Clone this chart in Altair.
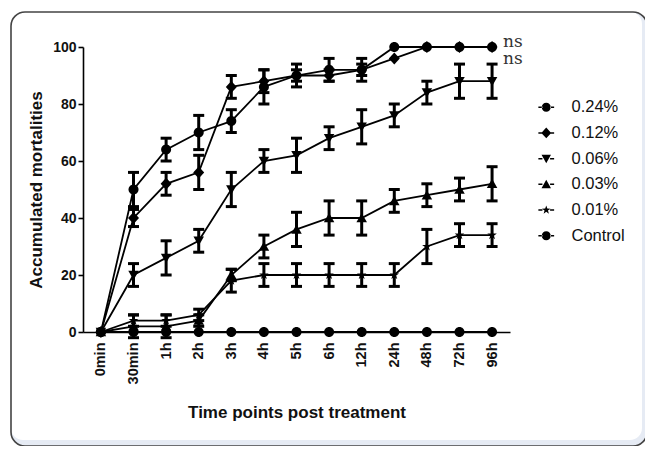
import altair as alt
import pandas as pd

times = ["0min", "30min", "1h", "2h", "3h", "4h", "5h", "6h", "12h", "24h", "48h", "72h", "96h"]
series_names = ["0.24%", "0.12%", "0.06%", "0.03%", "0.01%", "Control"]

m024 = [0, 50, 64, 70, 74, 86, 90, 92, 92, 100, 100, 100, 100]
e024 = [0, 6, 4, 6, 4, 6, 4, 4, 4, 0, 0, 0, 0]
m012 = [0, 40, 52, 56, 86, 88, 90, 90, 92, 96, 100, 100, 100]
e012 = [0, 3, 4, 6, 4, 4, 2, 2, 2, 0, 0, 0, 0]
m006 = [0, 20, 26, 32, 50, 60, 62, 68, 72, 76, 84, 88, 88]
e006 = [0, 4, 6, 4, 6, 4, 6, 4, 6, 4, 4, 6, 6]
m003 = [0, 2, 2, 4, 20, 30, 36, 40, 40, 46, 48, 50, 52]
e003 = [0, 4, 4, 2, 2, 4, 6, 6, 6, 4, 4, 4, 6]
m001 = [0, 4, 4, 6, 18, 20, 20, 20, 20, 20, 30, 34, 34]
e001 = [0, 2, 2, 2, 4, 4, 4, 4, 4, 4, 6, 4, 4]
mctl = [0, 0, 0, 0, 0, 0, 0, 0, 0, 0, 0, 0, 0]
ectl = [0, 0, 0, 0, 0, 0, 0, 0, 0, 0, 0, 0, 0]

ns_labels = ["ns", "ns"]

means = [m024, m012, m006, m003, m001, mctl]
errs = [e024, e012, e006, e003, e001, ectl]

rows = []
for name, mv, ev in zip(series_names, means, errs):
    for t, m, e in zip(times, mv, ev):
        rows.append({"time": t, "series": name, "legend": name, "mean": m,
                     "lo": m - e, "hi": m + e, "err": e})
df = pd.DataFrame(rows)
df_err = df[df["err"] > 0]

# marker shapes (unit paths)
CIRCLE = "M-1,0A1,1,0,1,0,1,0A1,1,0,1,0,-1,0Z"
DIAMOND = "M0,-1.2L1.1,0L0,1.2L-1.1,0Z"
TRI_DOWN = "M0,1L1.05,-0.85L-1.05,-0.85Z"
TRI_UP = "M0,-1L1.05,0.85L-1.05,0.85Z"
STAR = ("M0,-1L0.235,-0.324L0.951,-0.309L0.38,0.124L0.588,0.809L0,0.4"
        "L-0.588,0.809L-0.38,0.124L-0.951,-0.309L-0.235,-0.324Z")
LINE = " M-1.75,-0.17H-0.85V0.17H-1.75Z M0.85,-0.17H1.75V0.17H0.85Z"

plot_shapes = [CIRCLE, DIAMOND, TRI_DOWN, TRI_UP, STAR, CIRCLE]
legend_shapes = [s + LINE for s in plot_shapes]

FONT = "Liberation Sans"

x_enc = alt.X("time:N", sort=times,
              scale=alt.Scale(type="point", domain=times, padding=0.55),
              axis=alt.Axis(title="Time points post treatment", labelAngle=270,
                            ticks=False, labelPadding=10, titlePadding=21, zindex=1,
                            labelFont=FONT, labelFontWeight="bold", labelFontSize=14.5,
                            labelColor="#111", titleFont=FONT, titleFontSize=17,
                            titleFontWeight="bold", titleColor="#111"))
y_scale = alt.Scale(domain=[0, 100], nice=False)
y_enc = alt.Y("mean:Q", scale=y_scale,
              axis=alt.Axis(title="Accumulated mortalities", values=[0, 20, 40, 60, 80, 100],
                            tickSize=5, labelPadding=2, titlePadding=7, zindex=1,
                            labelFont=FONT, labelFontWeight="bold", labelFontSize=14,
                            labelColor="#111", titleFont=FONT, titleFontSize=17,
                            titleFontWeight="bold", titleColor="#111"))

base = alt.Chart(df)

lines = base.mark_line(color="black", strokeWidth=1.8).encode(
    x=x_enc, y=y_enc, detail="series:N"
)

err_rule = alt.Chart(df_err).mark_rule(color="black", strokeWidth=3).encode(
    x=alt.X("time:N", sort=times), y=alt.Y("lo:Q", scale=y_scale), y2="hi:Q"
)
err_top = alt.Chart(df_err).mark_tick(color="black", thickness=3, size=11, opacity=1).encode(
    x=alt.X("time:N", sort=times), y=alt.Y("hi:Q", scale=y_scale)
)
err_bot = alt.Chart(df_err).mark_tick(color="black", thickness=3, size=11, opacity=1).encode(
    x=alt.X("time:N", sort=times), y=alt.Y("lo:Q", scale=y_scale)
)

points = base.mark_point(filled=True, color="black", opacity=1, size=100).encode(
    x=alt.X("time:N", sort=times), y=alt.Y("mean:Q", scale=y_scale),
    shape=alt.Shape("series:N", scale=alt.Scale(domain=series_names, range=plot_shapes),
                    legend=None)
)

legend_layer = base.mark_point(filled=True, color="black", opacity=0, size=81).encode(
    x=alt.X("time:N", sort=times), y=alt.Y("mean:Q", scale=y_scale),
    shape=alt.Shape("legend:N", scale=alt.Scale(domain=series_names, range=legend_shapes),
                    legend=alt.Legend(title=None, orient="none", legendX=455, legendY=52,
                                      symbolSize=81, symbolOpacity=1, symbolFillColor="black",
                                      symbolStrokeColor="black", symbolStrokeWidth=0,
                                      labelFont=FONT, labelFontSize=16.5, labelColor="#111",
                                      labelOffset=17, rowPadding=8.7, padding=0))
)

ns_df = pd.DataFrame({"time": ["96h", "96h"], "mean": [100, 100], "label": ns_labels,
                      "k": [0, 1]})
ns_top = alt.Chart(ns_df.iloc[[0]]).mark_text(font="DejaVu Serif", fontSize=17, color="#333",
                                             align="left", dx=11, dy=-5).encode(
    x=alt.X("time:N", sort=times), y=alt.Y("mean:Q", scale=y_scale), text="label:N")
ns_bot = alt.Chart(ns_df.iloc[[1]]).mark_text(font="DejaVu Serif", fontSize=17, color="#333",
                                             align="left", dx=11, dy=12).encode(
    x=alt.X("time:N", sort=times), y=alt.Y("mean:Q", scale=y_scale), text="label:N")

frame_df = pd.DataFrame({"a": [0]})
shadow = alt.Chart(frame_df).mark_rect(fill="#e6ebf4", cornerRadius=14).encode(
    x=alt.value(-72), x2=alt.value(564), y=alt.value(-35), y2=alt.value(399))
white = alt.Chart(frame_df).mark_rect(fill="white", cornerRadius=12).encode(
    x=alt.value(-72), x2=alt.value(559), y=alt.value(-35), y2=alt.value(393))
border = alt.Chart(frame_df).mark_rect(fill=None, stroke="#444", strokeWidth=1.6,
                                       cornerRadius=14).encode(
    x=alt.value(-72), x2=alt.value(564), y=alt.value(-35), y2=alt.value(399))

chart = alt.layer(
    shadow, white, border, lines, err_rule, err_top, err_bot, points, legend_layer,
    ns_top, ns_bot
).resolve_scale(shape="independent").properties(
    width=427, height=285,
    autosize=alt.AutoSizeParams(type="none"),
    padding={"left": 75, "top": 39, "right": 135, "bottom": 114},
).configure_view(stroke=None).configure_axis(
    domainColor="black", domainWidth=1.6, tickColor="black", tickWidth=1.6, grid=False
)

chart.save("out.html", embed_options={"renderer": "svg", "actions": False})
